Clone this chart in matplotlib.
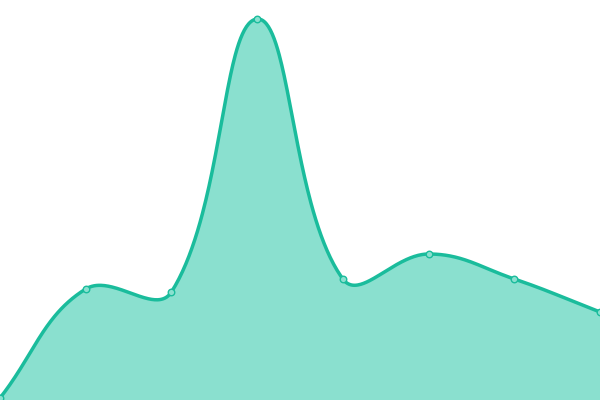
import matplotlib
matplotlib.use("Agg")
import matplotlib.pyplot as plt
import numpy as np

# point positions and values
positions = [0, 1, 2, 3, 4, 5, 6, 7]
values = [2, 111, 108, 381, 121, 146, 121, 88]

LINE = "#1abc9c"
FILL = "#8ae0cf"
W, H = 600, 400
X_MAX, Y_MAX = 7, 400
TENSION = 0.4


def spline_curve(px, py, tension=TENSION, steps=80):
    """Cubic bezier through the points, control points weighted by pixel distance."""
    p = np.column_stack([px, py]).astype(float)
    n = len(p)
    ctrl_prev, ctrl_next = [], []
    for i in range(n):
        prev = p[i - 1] if i > 0 else p[i]
        nxt = p[i + 1] if i < n - 1 else p[i]
        d01 = np.linalg.norm(p[i] - prev)
        d12 = np.linalg.norm(nxt - p[i])
        s01 = d01 / (d01 + d12)
        s12 = d12 / (d01 + d12)
        fa = tension * s01
        fb = tension * s12
        ctrl_prev.append(p[i] - fa * (nxt - prev))
        ctrl_next.append(p[i] + fb * (nxt - prev))
    t = np.linspace(0, 1, steps)[:, None]
    out = []
    for i in range(n - 1):
        p1, c1, c2, p2 = p[i], ctrl_next[i], ctrl_prev[i + 1], p[i + 1]
        out.append((1 - t) ** 3 * p1 + 3 * (1 - t) ** 2 * t * c1
                   + 3 * (1 - t) * t**2 * c2 + t**3 * p2)
    return np.vstack(out)


fig = plt.figure(figsize=(6, 4), dpi=100)
ax = fig.add_axes([0, 0, 1, 1])

sx_px = np.array(positions, dtype=float) * W / X_MAX
sy_px = np.array(values, dtype=float) * H / Y_MAX
curve = spline_curve(sx_px, sy_px)
cx = curve[:, 0] * X_MAX / W
cy = curve[:, 1] * Y_MAX / H

ax.fill_between(cx, 0, cy, color=FILL, lw=0, zorder=1)
ax.plot(cx, cy, color=LINE, lw=2.5, zorder=2, solid_capstyle="round")
ax.scatter(positions, values, s=22, facecolor=FILL, edgecolor=LINE, linewidth=1, zorder=3, clip_on=False)

ax.set_xlim(0, X_MAX)
ax.set_ylim(0, Y_MAX)
ax.axis("off")

fig.savefig("out.png", dpi=100)
